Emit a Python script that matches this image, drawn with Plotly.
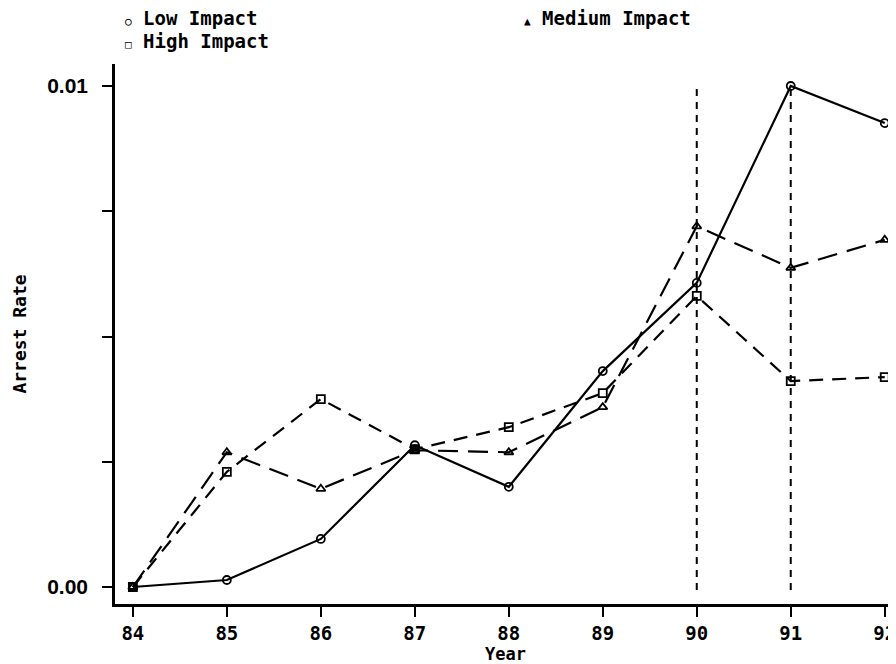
import plotly.graph_objects as go

years = [84, 85, 86, 87, 88, 89, 90, 91, 92]
low_impact = [0.0, 0.00014, 0.00096, 0.00283, 0.00200, 0.00431, 0.00607, 0.0100, 0.00926]
medium_impact = [0.0, 0.00269, 0.00196, 0.00273, 0.00269, 0.00359, 0.00720, 0.00637, 0.00693]
high_impact = [0.0, 0.00230, 0.00375, 0.00275, 0.00319, 0.00387, 0.00581, 0.00411, 0.00419]
event_years = [90, 91]
y_tickvals = [0.0, 0.0025, 0.005, 0.0075, 0.01]
y_ticktext = ["0.00", "", "", "", "0.01"]

MONO = "DejaVu Sans Mono"
fig = go.Figure()

series = [
    ("Low Impact", low_impact, "solid", "circle-open"),
    ("Medium Impact", medium_impact, "20px,10px", "triangle-up-open"),
    ("High Impact", high_impact, "14px,9px", "square-open"),
]
for name, vals, dash, sym in series:
    fig.add_trace(go.Scatter(
        x=years, y=vals, name=name, mode="lines+markers",
        line=dict(color="black", width=2.2, dash=dash),
        marker=dict(symbol=sym, size=8, color="black", line=dict(width=1.8, color="black")),
        cliponaxis=False, showlegend=False,
    ))

for ey in event_years:
    fig.add_shape(type="line", xref="x", yref="y", x0=ey, x1=ey, y0=-0.00006, y1=0.0100,
                  line=dict(color="black", width=2, dash="7px,6px"))

# page is offset by 8px (body margin); plot area spans reference px x 115..896, y 64..604
def px_to_paper(px, py):
    return (px - 115) / (896 - 115), (604 - py) / (604 - 64)

legend_items = [
    ("\u25cb", "Low Impact", 123, 18),
    ("\u25a1", "High Impact", 123, 41),
    ("\u25b2", "Medium Impact", 522, 18),
]
for sym, txt, px, py in legend_items:
    xp, yp = px_to_paper(px, py)
    fig.add_annotation(
        xref="paper", yref="paper", x=xp, y=yp,
        text=f"<span style='font-size:11px'>{sym}</span> {txt}",
        showarrow=False, xanchor="left", yanchor="middle",
        font=dict(family=MONO, size=19, color="black", weight="bold"),
    )

fig.update_layout(
    width=896, height=656,
    margin=dict(l=107, r=8, t=56, b=60),
    paper_bgcolor="white", plot_bgcolor="white",
    xaxis=dict(
        range=[83.81, 92.12], tickvals=years, ticktext=[str(y) for y in years],
        showgrid=False, zeroline=False, showline=True, linecolor="black", linewidth=2.5,
        ticks="outside", ticklen=10, tickwidth=2, tickcolor="black", automargin=False,
        tickfont=dict(family=MONO, size=19, color="black", weight="bold"),
        title=dict(text="Year", font=dict(family=MONO, size=17, color="black", weight="bold"), standoff=4),
    ),
    yaxis=dict(
        range=[-0.000339, 0.010439], tickvals=y_tickvals, ticktext=y_ticktext,
        showgrid=False, zeroline=False, showline=True, linecolor="black", linewidth=2.5,
        ticks="outside", ticklen=10, tickwidth=2, tickcolor="black", ticklabelstandoff=10,
        automargin=False,
        tickfont=dict(family="Liberation Sans", size=21, color="black", weight="bold"),
        title=dict(text="Arrest Rate", font=dict(family=MONO, size=18, color="black", weight="bold"), standoff=16),
    ),
)

fig.write_html("out.html")
